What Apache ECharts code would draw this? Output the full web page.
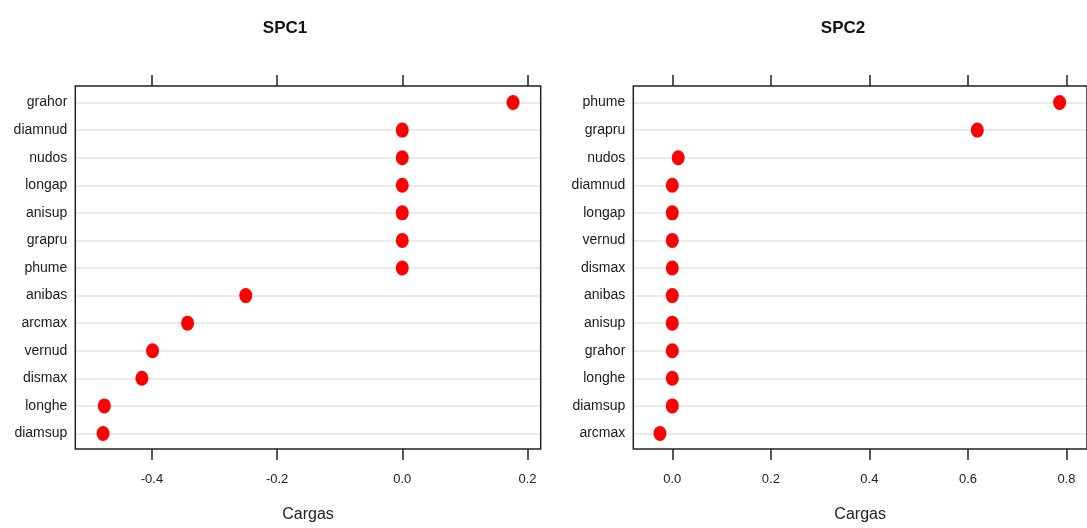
<!DOCTYPE html>
<html>
<head>
<meta charset="utf-8">
<script src="https://cdn.jsdelivr.net/npm/echarts@6/dist/echarts.min.js"></script>
<style>
html,body{margin:0;padding:0;background:#fff;}
#chart{width:1087px;height:528px;}
</style>
</head>
<body>
<div id="chart"></div>
<script>
// ---- data ----
const spc1Categories = ['grahor','diamnud','nudos','longap','anisup','grapru','phume','anibas','arcmax','vernud','dismax','longhe','diamsup'];
const spc1Values = [0.177, 0, 0, 0, 0, 0, 0, -0.250, -0.343, -0.399, -0.416, -0.476, -0.478];
const spc2Categories = ['phume','grapru','nudos','diamnud','longap','vernud','dismax','anibas','anisup','grahor','longhe','diamsup','arcmax'];
const spc2Values = [0.786, 0.619, 0.012, 0, 0, 0, 0, 0, 0, 0, 0, 0, -0.025];
const spc1Ticks = [-0.4, -0.2, 0.0, 0.2];
const spc2Ticks = [0.0, 0.2, 0.4, 0.6, 0.8];
const panelTitles = ['SPC1', 'SPC2'];
const axisTitle = 'Cargas';

// ---- layout ----
const FONT = '"Liberation Sans", Arial, sans-serif';
const frameTop = 86, frameH = 364;
const band = frameH / 13.2;           // lattice pads 0.6 units on each side
const dataTop = frameTop + 0.1 * band;
const dataH = 13 * band;
const panels = [
  {left: 75.3, width: 465.4, min: -0.5224, max: 0.2212, cats: spc1Categories, vals: spc1Values, ticks: spc1Ticks, titleX: 280},
  {left: 633.3, width: 465.4, min: -0.0791, max: 0.8416, cats: spc2Categories, vals: spc2Values, ticks: spc2Ticks, titleX: 838}
];

const grid = [], xAxis = [], yAxis = [], series = [], title = [];
panels.forEach((p, i) => {
  const fg = grid.length;
  grid.push({left: p.left, top: frameTop, width: p.width, height: frameH, show: true, z: 4,
             borderColor: '#222', borderWidth: 1.5, backgroundColor: 'transparent', containLabel: false});
  const dg = grid.length;
  grid.push({left: p.left, top: dataTop, width: p.width, height: dataH, containLabel: false});

  const tickCommon = {show: true, inside: false, length: 11, lineStyle: {color: '#222', width: 1.5}, customValues: p.ticks};
  xAxis.push({type: 'value', gridIndex: fg, position: 'bottom', min: p.min, max: p.max,
    axisLine: {show: false}, splitLine: {show: false}, axisTick: tickCommon,
    axisLabel: {show: true, customValues: p.ticks, margin: 24, color: '#222', fontSize: 13, fontFamily: FONT,
      formatter: v => v.toFixed(1)},
    name: axisTitle, nameLocation: 'middle', nameGap: 58,
    nameTextStyle: {color: '#222', fontSize: 16, fontFamily: FONT}});
  xAxis.push({type: 'value', gridIndex: fg, position: 'top', min: p.min, max: p.max,
    axisLine: {show: false}, splitLine: {show: false}, axisTick: tickCommon, axisLabel: {show: false}});
  yAxis.push({type: 'value', gridIndex: fg, min: 0, max: 1, show: false});
  const xd = xAxis.length;
  xAxis.push({type: 'value', gridIndex: dg, min: p.min, max: p.max, show: false});
  const yd = yAxis.length;
  yAxis.push({type: 'category', gridIndex: dg, data: p.cats, inverse: true, boundaryGap: true,
    axisLine: {show: false}, axisTick: {show: false}, splitLine: {show: false},
    axisLabel: {margin: 8, color: '#1a1a1a', fontSize: 14, fontFamily: FONT}});

  series.push({type: 'scatter', xAxisIndex: xd, yAxisIndex: yd, data: [], silent: true, z: 1,
    markLine: {silent: true, z: 1, symbol: 'none', label: {show: false}, animation: false,
      lineStyle: {color: '#ebebeb', width: 2, type: 'solid'},
      data: p.cats.map(c => ({yAxis: c}))}});
  series.push({type: 'scatter', xAxisIndex: xd, yAxisIndex: yd, z: 10,
    symbol: 'circle', symbolSize: [13, 15], itemStyle: {color: '#ff0000', opacity: 1},
    data: p.vals.map((v, k) => [v, p.cats[k]])});

  title.push({text: panelTitles[i], left: p.titleX, top: 15, textAlign: 'center',
    textStyle: {fontSize: 17, fontWeight: 'bold', color: '#111', fontFamily: FONT}});
});

const chart = echarts.init(document.getElementById('chart'), null, {renderer: 'canvas'});
chart.setOption({backgroundColor: '#fff', animation: false, title, grid, xAxis, yAxis, series});
</script>
</body>
</html>
